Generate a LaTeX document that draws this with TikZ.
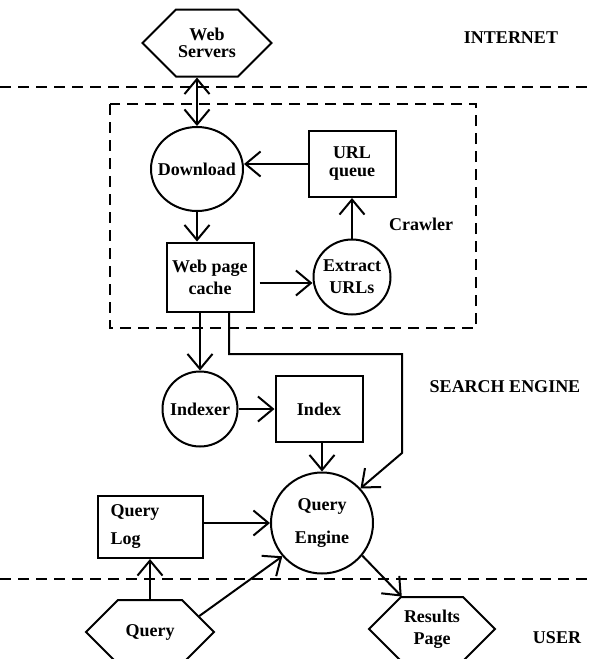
\documentclass[tikz,border=0pt]{standalone}
\usepackage{fontspec}
\setmainfont{Liberation Serif}
\usetikzlibrary{arrows.meta,shapes.geometric,shapes.symbols}

\begin{document}
\begin{tikzpicture}[
  x=1pt, y=-1pt,
  >={Straight Barb[length=15pt,width=25pt]},
  font=\fontsize{18}{20}\selectfont\bfseries,
  box/.style={draw, line width=2pt, align=center, inner sep=0pt},
  proc/.style={draw, ellipse, line width=2pt, align=center, inner xsep=-10pt, inner ysep=0pt},
  site/.style={draw, signal, signal to=east and west, signal pointer angle=90, line width=2pt, align=center, inner sep=0pt},
  line/.style={->, line width=2pt},
  sep/.style={line width=2pt, dash pattern=on 11pt off 7pt},
  zone/.style={inner sep=0pt}
]
  \useasboundingbox (0,0) rectangle (593,659);

  % layers
  \draw[sep] (0,87) -- (593,87);
  \draw[sep] (0,579) -- (593,579);
  \draw[sep] (110,104) rectangle (476,328);

  \node[zone] (internet) at (511,38) {INTERNET};
  \node[zone] (crawler) at (421,224) {Crawler};
  \node[zone] (engine) at (505,387) {SEARCH ENGINE};
  \node[zone] (user) at (557,638) {USER};

  % crawler
  \node[site, minimum width=129pt, minimum height=67pt, font=\fontsize{18}{17}\selectfont\bfseries] (ws) at (207,43) {Web\\Servers};
  \node[proc, minimum width=92pt, minimum height=84pt] (dl) at (197,169) {Download};
  \node[box, minimum width=87pt, minimum height=66pt, font=\fontsize{18}{18}\selectfont\bfseries] (uq) at (352,164) {URL\\queue};
  \node[box, minimum width=87pt, minimum height=69pt, font=\fontsize{18}{22}\selectfont\bfseries] (wc) at (210,277) {Web page\\cache};
  \node[proc, minimum width=77pt, minimum height=75pt, font=\fontsize{18}{22}\selectfont\bfseries] (ex) at (352,277) {Extract\\URLs};

  % search engine
  \node[proc, minimum width=75pt, minimum height=75pt] (ix) at (200,409) {Indexer};
  \node[box, minimum width=87pt, minimum height=66pt] (ixb) at (319,409) {Index};
  \node[proc, minimum width=102pt, minimum height=101pt, font=\fontsize{18}{33}\selectfont\bfseries] (qe) at (322,523) {Query\\Engine};
  \node[box, minimum height=62pt, text width=79pt, inner xsep=13pt, align=left, font=\fontsize{18}{28}\selectfont\bfseries] (ql) at (150,527) {Query\\Log};

  % user
  \node[site, minimum width=128pt, minimum height=64pt] (q) at (150,632) {Query};
  \node[site, minimum width=126pt, minimum height=64pt, font=\fontsize{18}{22}\selectfont\bfseries] (rp) at (432,629) {Results\\Page};

  \coordinate (turn) at (402,354);
  \coordinate (drop) at (402,453);

  \draw[line, <->] (dl.north) -- (dl.north |- ws.south);
  \draw[line] (uq.west) -- (uq.west -| dl.east);
  \draw[line] (dl.south) -- (dl.south |- wc.north);
  \draw[line, shorten <=5pt] ([yshift=-6pt]wc.east) -- ([yshift=-6pt]wc.east -| ex.west);
  \draw[line] (ex.north) -- (uq.south);
  \draw[line] (ix.north |- wc.south) -- (ix.north);
  \draw[line] ([xshift=19pt]wc.south) |- (turn) -- (drop) -- (qe.42);
  \draw[line] (ix.east) -- (ixb.west);
  \draw[line] (qe.north |- ixb.south) -- (qe.north);
  \draw[line] (qe.west -| ql.east) -- (qe.west);
  \draw[line] (q.north) -- (ql.south);
  \draw[line] (q.18) -- (qe.220);
  \draw[line] (qe.-39) -- (rp.133);
\end{tikzpicture}
\end{document}
